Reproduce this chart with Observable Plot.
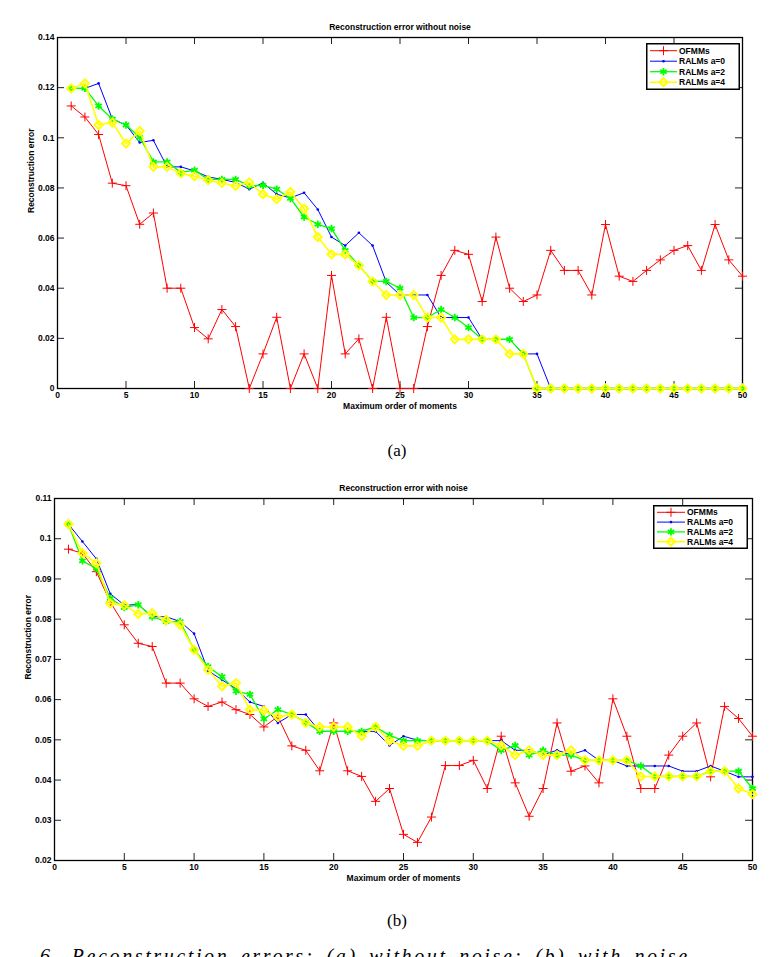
<!DOCTYPE html>
<html><head><meta charset="utf-8">
<script src="https://cdn.jsdelivr.net/npm/d3@7"></script>
<script src="https://cdn.jsdelivr.net/npm/@observablehq/plot@0.6"></script>
<style>
html,body{margin:0;padding:0;background:#fff;}
body{width:774px;height:957px;overflow:hidden;position:relative;}
.chart{position:absolute;left:0;}
.legend{position:absolute;}
.cap{position:absolute;font-family:"Liberation Serif","Times New Roman",serif;white-space:nowrap;}
</style></head><body>
<div id="chartA" class="chart" style="top:0px"></div>
<div id="chartB" class="chart" style="top:460px"></div>
<div id="legA" class="legend"></div>
<div id="legB" class="legend"></div>
<div class="cap" style="left:0;width:794px;top:441px;text-align:center;font-size:17px;line-height:20px;">(a)</div>
<div class="cap" style="left:0;width:794px;top:911px;text-align:center;font-size:17px;line-height:20px;">(b)</div>
<div class="cap" style="left:40px;top:946px;font-size:20px;line-height:20px;font-style:italic;letter-spacing:2.6px;word-spacing:4px;">6. Reconstruction errors: (a) without noise; (b) with noise</div>
<script>
// ---- data ----
const orders = [1,2,3,4,5,6,7,8,9,10,11,12,13,14,15,16,17,18,19,20,21,22,23,24,25,26,27,28,29,30,31,32,33,34,35,36,37,38,39,40,41,42,43,44,45,46,47,48,49,50];
const seriesNames = ["OFMMs", "RALMs a=0", "RALMs a=2", "RALMs a=4"];

// (a) without noise
const ofmmsA = [0.1127,0.1083,0.1013,0.0819,0.0809,0.0655,0.0700,0.0400,0.0400,0.0243,
  0.0198,0.0315,0.0247,0,0.0138,0.0284,0,0.0138,0,0.0451,
  0.0138,0.0198,0,0.0284,0,0,0.0247,0.0451,0.0551,0.0535,
  0.0347,0.0604,0.0400,0.0347,0.0373,0.0551,0.0471,0.0471,0.0373,0.0654,
  0.0448,0.0427,0.0471,0.0513,0.0551,0.0570,0.0471,0.0654,0.0513,0.0448];
const ralm0A = [0.1197,0.1197,0.1217,0.1075,0.1051,0.0981,0.0990,0.0884,0.0884,0.0868,
  0.0844,0.0834,0.0822,0.0795,0.0820,0.0775,0.0760,0.0781,0.0714,0.0604,
  0.0570,0.0621,0.0570,0.0424,0.0373,0.0373,0.0373,0.0283,0.0283,0.0283,
  0.0196,0.0196,0.0196,0.0138,0.0138,0,0,0,0,0,
  0,0,0,0,0,0,0,0,0,0];
const ralm2A = [0.1197,0.1197,0.1127,0.1075,0.1051,0.1002,0.0904,0.0904,0.0862,0.0871,
  0.0834,0.0834,0.0834,0.0808,0.0810,0.0795,0.0758,0.0684,0.0655,0.0638,
  0.0551,0.0491,0.0427,0.0427,0.0400,0.0283,0.0283,0.0315,0.0283,0.0243,
  0.0196,0.0196,0.0196,0.0138,0,0,0,0,0,0,
  0,0,0,0,0,0,0,0,0,0];
const ralm4A = [0.1197,0.1217,0.1051,0.1061,0.0977,0.1027,0.0884,0.0884,0.0858,0.0847,
  0.0831,0.0820,0.0808,0.0822,0.0775,0.0755,0.0784,0.0717,0.0604,0.0535,
  0.0535,0.0491,0.0427,0.0373,0.0373,0.0373,0.0283,0.0283,0.0196,0.0196,
  0.0196,0.0196,0.0138,0.0138,0,0,0,0,0,0,
  0,0,0,0,0,0,0,0,0,0];

// (b) with noise
const ofmmsB = [0.0974,0.0964,0.0918,0.0842,0.0786,0.0740,0.0732,0.0641,0.0641,0.0602,
  0.0583,0.0594,0.0575,0.0563,0.0532,0.0558,0.0485,0.0474,0.0423,0.0542,
  0.0423,0.0409,0.0347,0.0379,0.0265,0.0245,0.0308,0.0436,0.0436,0.0449,
  0.0379,0.0509,0.0393,0.0310,0.0379,0.0542,0.0422,0.0435,0.0393,0.0602,
  0.0509,0.0379,0.0379,0.0462,0.0509,0.0542,0.0408,0.0583,0.0553,0.0509];
const ralm0B = [0.1036,0.0993,0.0950,0.0863,0.0835,0.0836,0.0806,0.0806,0.0794,0.0764,
  0.0672,0.0649,0.0627,0.0594,0.0583,0.0542,0.0563,0.0563,0.0521,0.0521,
  0.0521,0.0521,0.0521,0.0486,0.0509,0.0499,0.0498,0.0498,0.0498,0.0498,
  0.0498,0.0498,0.0474,0.0474,0.0463,0.0474,0.0463,0.0474,0.0449,0.0449,
  0.0435,0.0435,0.0435,0.0435,0.0422,0.0422,0.0435,0.0422,0.0408,0.0408];
const ralm2B = [0.1036,0.0945,0.0926,0.0852,0.0829,0.0836,0.0806,0.0794,0.0794,0.0724,
  0.0682,0.0657,0.0621,0.0613,0.0552,0.0575,0.0563,0.0544,0.0521,0.0521,
  0.0521,0.0521,0.0532,0.0511,0.0498,0.0498,0.0498,0.0498,0.0498,0.0498,
  0.0498,0.0474,0.0486,0.0462,0.0474,0.0462,0.0462,0.0449,0.0449,0.0449,
  0.0449,0.0435,0.0409,0.0409,0.0409,0.0409,0.0422,0.0422,0.0422,0.0379];
const ralm4B = [0.1036,0.0964,0.0939,0.0839,0.0835,0.0813,0.0815,0.0798,0.0786,0.0724,
  0.0674,0.0633,0.0641,0.0575,0.0573,0.0557,0.0563,0.0542,0.0532,0.0532,
  0.0532,0.0509,0.0532,0.0498,0.0485,0.0485,0.0498,0.0498,0.0498,0.0498,
  0.0498,0.0486,0.0462,0.0474,0.0462,0.0462,0.0474,0.0449,0.0449,0.0449,
  0.0449,0.0409,0.0409,0.0409,0.0409,0.0409,0.0422,0.0422,0.0379,0.0365];

// axis ticks and labels
const xTicks = [0,5,10,15,20,25,30,35,40,45,50];
const yTicksA = [0,0.02,0.04,0.06,0.08,0.1,0.12,0.14];
const yTicksB = [0.02,0.03,0.04,0.05,0.06,0.07,0.08,0.09,0.1,0.11];
const titleA = "Reconstruction error without noise";
const titleB = "Reconstruction error with noise";
const xLabel = "Maximum order of moments";
const yLabel = "Reconstruction error";

// ---- styles ----
const colors = ["#ff0000", "#0000ff", "#00ff00", "#ffff00"];
const FONT = '"Liberation Sans", Arial, sans-serif';
const TICK = 7;

function rows(values) { return orders.map((o, i) => ({order: o, value: values[i]})); }

function seriesMarks(seriesList) {
  const [red, blue, green, yellow] = seriesList.map(rows);
  return [
    Plot.line(red, {x: "order", y: "value", stroke: colors[0], strokeWidth: 1}),
    Plot.dot(red, {x: "order", y: "value", symbol: "plus", r: 3, stroke: colors[0], strokeWidth: 1}),
    Plot.line(blue, {x: "order", y: "value", stroke: colors[1], strokeWidth: 1}),
    Plot.dot(blue, {x: "order", y: "value", r: 1.3, fill: colors[1], stroke: null}),
    Plot.line(green, {x: "order", y: "value", stroke: colors[2], strokeWidth: 1.3}),
    Plot.dot(green, {x: "order", y: "value", symbol: "asterisk", r: 3.5, stroke: colors[2], strokeWidth: 1.8}),
    Plot.line(yellow, {x: "order", y: "value", stroke: colors[3], strokeWidth: 1.6}),
    Plot.dot(yellow, {x: "order", y: "value", symbol: "diamond2", r: 3.6, stroke: colors[3], strokeWidth: 2})
  ];
}

function axisMarks(yTicks, title, ylabDx, frameW, frameH) {
  const fmt = d => String(+d.toFixed(2));
  const tick = {stroke: "#222", strokeWidth: 1};
  return [
    Plot.axisX({anchor: "bottom", ticks: xTicks, tickSize: 0, tickPadding: 3, tickFormat: d => String(d), label: null, fontWeight: "bold"}),
    Plot.axisY({anchor: "left", ticks: yTicks, tickSize: 0, tickPadding: 3, tickFormat: fmt, label: null, fontWeight: "bold"}),
    // inward ticks on all four sides
    Plot.ruleX(xTicks, {x: d => d, insetTop: frameH - TICK, ...tick}),
    Plot.ruleX(xTicks, {x: d => d, insetBottom: frameH - TICK, ...tick}),
    Plot.ruleY(yTicks, {y: d => d, insetRight: frameW - TICK, ...tick}),
    Plot.ruleY(yTicks, {y: d => d, insetLeft: frameW - TICK, ...tick}),
    Plot.frame({stroke: "#000", strokeWidth: 1.3}),
    Plot.text([title], {frameAnchor: "top", dy: -10, text: d => d, fontWeight: "bold", fontSize: 8.5, lineAnchor: "middle"}),
    Plot.text([xLabel], {frameAnchor: "bottom", dy: 18, text: d => d, fontWeight: "bold", fontSize: 8.5, lineAnchor: "middle"}),
    Plot.text([yLabel], {frameAnchor: "left", dx: ylabDx, rotate: -90, text: d => d, fontWeight: "bold", fontSize: 8.5, lineAnchor: "middle"})
  ];
}

function makeChart(cfg) {
  const frameW = cfg.width - cfg.marginLeft - cfg.marginRight;
  const frameH = cfg.height - cfg.marginTop - cfg.marginBottom;
  return Plot.plot({
    width: cfg.width, height: cfg.height,
    marginTop: cfg.marginTop, marginBottom: cfg.marginBottom, marginLeft: cfg.marginLeft, marginRight: cfg.marginRight,
    style: {fontFamily: FONT, fontSize: "8.5px", background: "#fff", color: "#000"},
    x: {domain: [0, 50]},
    y: {domain: cfg.yDomain},
    marks: [...axisMarks(cfg.yTicks, cfg.title, -26, frameW, frameH), ...seriesMarks(cfg.series)]
  });
}

document.getElementById("chartA").appendChild(makeChart({
  width: 774, height: 420, marginTop: 37, marginBottom: 32, marginLeft: 57, marginRight: 32,
  yDomain: [0, 0.14], yTicks: yTicksA, title: titleA, series: [ofmmsA, ralm0A, ralm2A, ralm4A]
}));
document.getElementById("chartB").appendChild(makeChart({
  width: 774, height: 440, marginTop: 38, marginBottom: 40, marginLeft: 54, marginRight: 22,
  yDomain: [0.02, 0.11], yTicks: yTicksB, title: titleB, series: [ofmmsB, ralm0B, ralm2B, ralm4B]
}));

// ---- legends ----
function legend(id, left, top, w, h, rowGap, firstRow, lineX0, lineX1, textX) {
  const el = document.getElementById(id);
  el.style.left = left + "px"; el.style.top = top + "px";
  const svg = d3.select(el).append("svg").attr("width", w).attr("height", h).style("display", "block");
  svg.append("rect").attr("x", 0.75).attr("y", 0.75).attr("width", w - 1.5).attr("height", h - 1.5)
    .attr("fill", "#fff").attr("stroke", "#000").attr("stroke-width", 1.5);
  const sym = [d3.symbolPlus, null, d3.symbolAsterisk, d3.symbolDiamond2];
  const sizes = [3, 1.3, 3.5, 3.6];
  const lw = [1, 1, 1.3, 1.6];
  const mw = [1, 0, 1.8, 2];
  seriesNames.forEach((name, i) => {
    const y = firstRow + i * rowGap;
    svg.append("line").attr("x1", lineX0).attr("x2", lineX1).attr("y1", y).attr("y2", y)
      .attr("stroke", colors[i]).attr("stroke-width", lw[i]);
    const cx = (lineX0 + lineX1) / 2;
    if (sym[i]) {
      const r = sizes[i];
      svg.append("path").attr("transform", `translate(${cx},${y})`)
        .attr("d", d3.symbol(sym[i], r * r * Math.PI)())
        .attr("fill", "none").attr("stroke", colors[i]).attr("stroke-width", mw[i]);
    } else {
      svg.append("circle").attr("cx", cx).attr("cy", y).attr("r", sizes[i]).attr("fill", colors[i]);
    }
    svg.append("text").attr("x", textX).attr("y", y).attr("dy", "0.35em")
      .attr("font-family", FONT).attr("font-weight", "bold").attr("font-size", 8.5).text(name);
  });
}
legend("legA", 646, 43, 94, 47, 10.5, 7.7, 4, 31, 33);
legend("legB", 653, 505, 95, 44, 9.8, 7.3, 4, 32, 34);
</script>
</body></html>
